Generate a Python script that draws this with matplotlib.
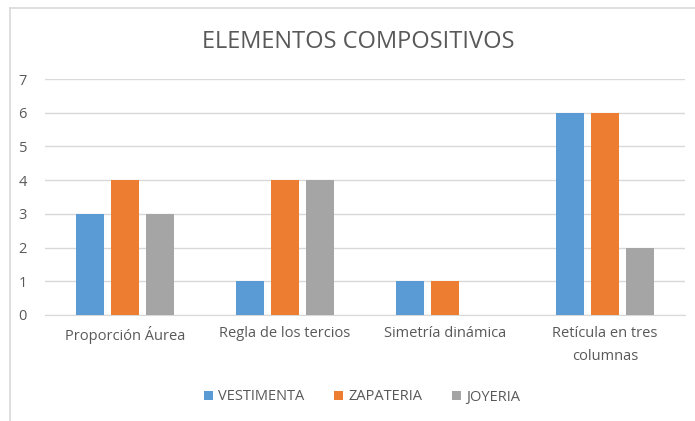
"""Grouped bar chart of compositional elements by product line."""

import matplotlib
matplotlib.use("Agg")
import matplotlib.pyplot as plt
from matplotlib.lines import Line2D
import numpy as np

categories = ["Proporción Áurea", "Regla de los tercios", "Simetría dinámica",
              "Retícula en tres\ncolumnas"]
vestimenta = [3, 1, 1, 6]
zapateria = [4, 4, 1, 6]
joyeria = [3, 4, 0, 2]
series_names = ["VESTIMENTA", "ZAPATERIA", "JOYERIA"]
colors = ["#5B9BD5", "#ED7D31", "#A5A5A5"]

text_color = "#595959"
grid_color = "#D9D9D9"
plt.rcParams["font.family"] = ["Open Sans", "DejaVu Sans"]

fig = plt.figure(figsize=(6.95, 4.21), dpi=100)
ax = fig.add_axes([45 / 695, 1 - 315 / 421, 640 / 695, 236 / 421])

x = np.arange(len(categories))
width = 0.175
step = 0.219
handles = []
for i, (vals, name, c) in enumerate(zip([vestimenta, zapateria, joyeria], series_names, colors)):
    bars = ax.bar(x + (i - 1) * step, vals, width=width, color=c, label=name, zorder=3)
    handles.append(bars)

ax.set_xlim(-0.5, len(categories) - 0.5)
ax.set_ylim(0, 7)
ax.set_yticks(range(0, 8))
ax.set_xticks(x)
ax.set_xticklabels(categories, fontsize=10.5, color=text_color, linespacing=1.75)
ax.tick_params(axis="y", length=0, pad=19, labelsize=10.5, labelcolor=text_color)
ax.tick_params(axis="x", length=0, pad=8)
for lbl in ax.get_yticklabels():
    lbl.set_horizontalalignment("left")
ax.yaxis.grid(True, color=grid_color, linewidth=1, zorder=0)
for side in ["top", "right", "left"]:
    ax.spines[side].set_visible(False)
ax.spines["bottom"].set_color(grid_color)

fig.text(358 / 695, 1 - 42 / 421, "ELEMENTOS COMPOSITIVOS", ha="center", va="center",
         fontsize=17, color=text_color)

fig.legend(handles=handles, labels=series_names, loc="center", ncol=3,
           bbox_to_anchor=(362 / 695, 1 - 397 / 421), frameon=False, fontsize=10.5,
           labelcolor=text_color, handlelength=0.65, handleheight=0.65,
           handletextpad=0.35, columnspacing=2.0)

# outer chart frame
fig.add_artist(Line2D([10 / 695, 10 / 695], [0, 1 - 8 / 421], color=grid_color, lw=1.2))
fig.add_artist(Line2D([10 / 695, 1], [1 - 8 / 421, 1 - 8 / 421], color=grid_color, lw=1.2))

fig.savefig("out.png", dpi=100)
